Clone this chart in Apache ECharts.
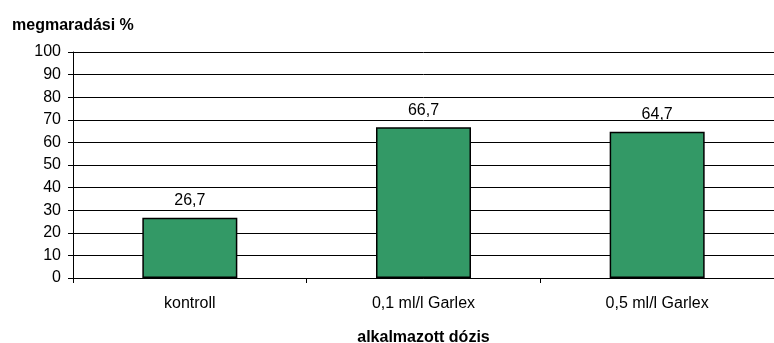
<!DOCTYPE html>
<html>
<head>
<meta charset="utf-8">
<script src="https://cdn.jsdelivr.net/npm/echarts@6/dist/echarts.min.js"></script>
<style>
  html, body { margin: 0; padding: 0; background: #fff; }
  #chart { width: 774px; height: 343px; }
</style>
</head>
<body>
<div id="chart"></div>
<script>
  // adatok
  var categories = ['kontroll', '0,1 ml/l Garlex', '0,5 ml/l Garlex'];
  var values = [26.7, 66.7, 64.7];
  var yMin = 0, yMax = 100, yStep = 10;

  var chart = echarts.init(document.getElementById('chart'), null, { renderer: 'canvas' });

  var font = 'Liberation Sans, Arial, sans-serif';

  var option = {
    animation: false,
    textStyle: { fontFamily: font },
    title: {
      text: 'megmaradási %',
      left: 7,
      top: 13,
      textStyle: { fontFamily: font, fontSize: 16, fontWeight: 'bold', color: '#000' }
    },
    grid: { left: 73, right: 0, top: 52, bottom: 65, containLabel: false, outerBoundsMode: 'none' },
    xAxis: {
      type: 'category',
      data: categories,
      name: 'alkalmazott dózis',
      nameLocation: 'middle',
      nameGap: 52,
      nameTextStyle: { fontFamily: font, fontSize: 16, fontWeight: 'bold', color: '#000' },
      axisLine: { lineStyle: { color: '#000', width: 1 } },
      axisTick: { show: true, length: 5, alignWithLabel: false, lineStyle: { color: '#000' } },
      axisLabel: { fontFamily: font, fontSize: 16, color: '#000', margin: 18 }
    },
    yAxis: {
      type: 'value',
      min: yMin,
      max: yMax,
      interval: yStep,
      axisLine: { show: true, lineStyle: { color: '#000', width: 1 } },
      axisTick: { show: true, length: 5, lineStyle: { color: '#000' } },
      axisLabel: { fontFamily: font, fontSize: 16, color: '#000', margin: 12 },
      splitLine: { show: true, lineStyle: { color: '#000', width: 1 } }
    },
    series: [{
      type: 'bar',
      data: values,
      barWidth: 95,
      itemStyle: { color: '#339966', borderColor: '#000', borderWidth: 1.5 },
      label: {
        show: true,
        position: 'top',
        distance: 9,
        fontFamily: font,
        fontSize: 16,
        color: '#000',
        formatter: function (p) { return String(p.value).replace('.', ','); }
      }
    }]
  };

  chart.setOption(option);
</script>
</body>
</html>
